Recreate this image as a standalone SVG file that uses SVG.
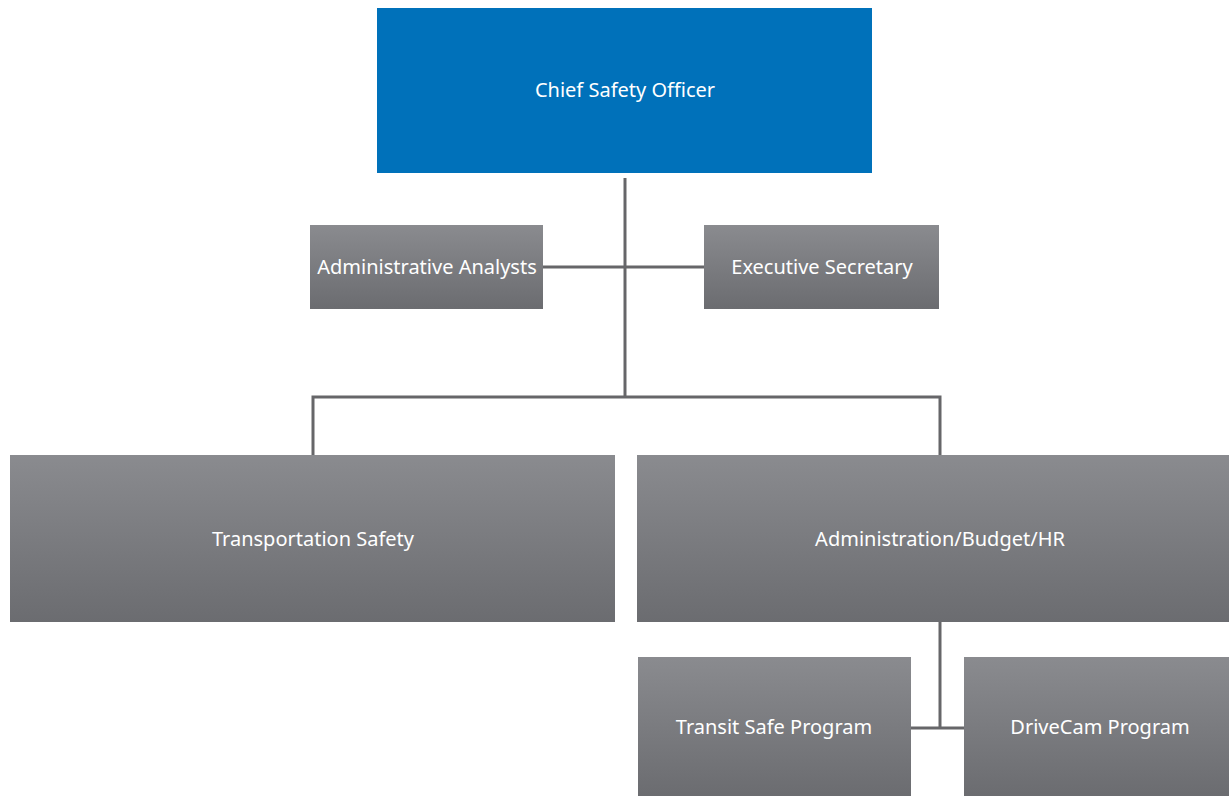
<svg xmlns="http://www.w3.org/2000/svg" width="1229" height="796" viewBox="0 0 1229 796">
<style>
  .g { fill: url(#grey); }
  .t { font-family: "Noto Sans", "Open Sans", sans-serif; font-size: 20px; fill: #ffffff; text-anchor: middle; dominant-baseline: central; }
  .c { stroke: #666669; stroke-width: 3; fill: none; }
</style>
<defs>
  <linearGradient id="grey" x1="0" y1="0" x2="0" y2="1">
    <stop offset="0" stop-color="#8a8b8f"/>
    <stop offset="1" stop-color="#6b6c70"/>
  </linearGradient>
</defs>
<rect width="1229" height="796" fill="#ffffff"/>
<g id="connectors">
  <path class="c" d="M625 178 V397"/>
  <path class="c" d="M543 267 H704"/>
  <path class="c" d="M313 455 V397 H940 V455"/>
  <path class="c" d="M940 622 V728"/>
  <path class="c" d="M911 728 H964"/>
</g>
<g id="chief">
  <rect x="377" y="8" width="495" height="165" fill="#0071ba"/>
  <text class="t" x="625" y="89">Chief Safety Officer</text>
</g>
<g id="analysts">
  <rect class="g" x="310" y="225" width="233" height="84"/>
  <text class="t" x="427" y="266">Administrative Analysts</text>
</g>
<g id="secretary">
  <rect class="g" x="704" y="225" width="235" height="84"/>
  <text class="t" x="822" y="266">Executive Secretary</text>
</g>
<g id="transportation">
  <rect class="g" x="10" y="455" width="605" height="167"/>
  <text class="t" x="313" y="538">Transportation Safety</text>
</g>
<g id="admin">
  <rect class="g" x="637" y="455" width="592" height="167"/>
  <text class="t" x="940" y="538">Administration/Budget/HR</text>
</g>
<g id="transit">
  <rect class="g" x="638" y="657" width="273" height="139"/>
  <text class="t" x="774" y="726">Transit Safe Program</text>
</g>
<g id="drivecam">
  <rect class="g" x="964" y="657" width="265" height="139"/>
  <text class="t" x="1100" y="726">DriveCam Program</text>
</g>
</svg>
